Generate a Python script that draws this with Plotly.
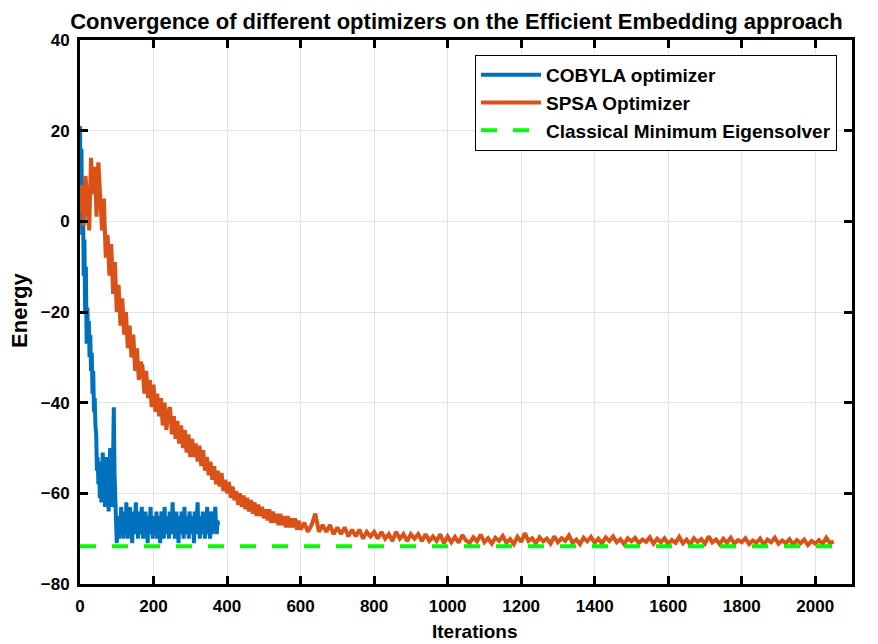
import plotly.graph_objects as go

# ---------------- data ----------------
cobyla_iter = list(range(0, 377, 2))
cobyla_energy = [
    # 0 - 42
    21, 7, 16, -3, 6, -12, -4, -20, -10, -27, -19, -26, -22, -30, -25, -33, -29, -38, -33, -42, -39, -45,
    # 44 - 102
    -47, -55, -52, -58, -54, -61, -53, -62, -56, -51, -60, -55, -63, -57, -52,
    -61, -56, -64, -58, -50, -59, -55, -63, -48, -41, -56, -62, -66, -71, -68,
    # 104 - 376
    -65, -70, -66, -69, -63, -68, -65, -70, -64, -67,
    -69, -62, -67, -70, -65, -68, -63, -69, -66, -71,
    -64, -67, -69, -65, -62, -68, -66, -70, -64, -67,
    -69, -66, -63, -68, -70, -65, -67, -64, -69, -66,
    -71, -65, -68, -66, -63, -69, -67, -70, -65, -68,
    -66, -69, -64, -70, -67, -65, -68, -71, -66, -64,
    -68, -66, -70, -63, -67, -69, -65, -68, -66, -70,
    -64, -67, -69, -66, -62, -68, -65, -70, -67, -64,
    -68, -66, -71, -65, -67, -69, -64, -68, -66, -70,
    -63, -67, -69, -65, -68, -66, -70, -64, -67, -69,
    -65, -68, -66, -71, -64, -67, -69, -65, -62, -68,
    -66, -70, -65, -67, -69, -64, -68, -66, -70, -65,
    -67, -63, -69, -66, -68, -70, -64, -67, -69, -65,
    -68, -66, -63, -67, -69, -66, -67,
]

spsa_iter = list(range(0, 601, 5)) + list(range(610, 2051, 10))
spsa_energy = [
    # 0 - 600 (every 5)
    2, 8, -1, 10, 4, -2, 14, 6, 12, 1, 13, 4, -2, 5, -8, -3, -12, -5, -16, -9,
    -20, -14, -23, -17, -25, -20, -28, -23, -30, -25, -33, -28, -35, -31, -32, -38, -33, -39, -35, -41,
    -36, -42, -38, -43, -39, -45, -40, -46, -42, -41, -47, -43, -48, -44, -49, -45, -50, -46, -51, -47,
    -52, -48, -52, -49, -53, -49.5, -54, -50.5, -55, -52, -56, -53, -57, -54, -58, -55, -58.5, -55.5, -59.5, -57,
    -60, -57.5, -61, -58.5, -61.5, -59.5, -62.5, -60, -63, -60.5, -63.5, -61, -64, -61.5, -64.5, -62, -65, -62.5, -65, -63,
    -65.5, -63.5, -66, -63.5, -66.5, -64, -66.5, -64.5, -67, -64.5, -67, -65, -67.5, -65, -67.5, -65.5, -67.5, -65.5, -68, -66,
    -68,
    # 610 - 1000 (every 10)
    -66.5, -68.5, -67, -64.5, -68.5, -67, -68.5, -67, -69, -67.5,
    -69, -67.5, -69.5, -68, -69.5, -68, -70, -68.5, -69.5, -68.5,
    -70, -68.5, -70, -69, -70.5, -68.5, -70, -69, -70.5, -69,
    -70, -69, -70.5, -69, -70.5, -69.5, -70.5, -69, -71, -69.5,
    # 1010 - 2050 (every 10)
    -70.8, -69.6, -70.9, -69.2, -70.4, -70.9, -69.7, -70.6, -69.1,
    -70.8, -69.9, -71.1, -69.8, -70.5, -69.4, -70.9, -70.1, -71.2, -69.6,
    -70.7, -68.8, -70.5, -69.9, -71.0, -69.7, -70.6, -70.0, -71.1, -69.5,
    -70.8, -69.9, -70.5, -69.3, -70.9, -70.2, -71.2, -69.8, -70.6, -69.6,
    -70.9, -70.0, -71.0, -69.7, -70.5, -69.5, -70.8, -70.1, -71.2, -69.9,
    -70.6, -69.8, -71.0, -70.2, -70.7, -69.7, -71.1, -70.0, -70.8, -69.9,
    -71.2, -70.3, -70.9, -69.6, -71.0, -70.2, -71.3, -69.9, -70.7, -70.1,
    -71.1, -69.5, -70.8, -70.2, -71.2, -70.0, -70.9, -69.8, -71.1, -70.3,
    -70.8, -69.9, -71.2, -70.4, -70.9, -70.0, -71.3, -70.2, -70.8, -69.8,
    -71.1, -70.4, -71.0, -70.1, -71.3, -70.3, -71.0, -70.2, -71.4, -70.5,
    -71.1, -70.3, -71.2, -69.8, -71.0, -70.6,
]

classical_x = [0, 2050]
classical_energy = [-71.65, -71.65]

x_ticks = [0, 200, 400, 600, 800, 1000, 1200, 1400, 1600, 1800, 2000]
y_ticks = [-80, -60, -40, -20, 0, 20, 40]

# ---------------- figure ----------------
FONT = "Liberation Sans, Arial, sans-serif"

fig = go.Figure()
fig.add_trace(go.Scatter(x=cobyla_iter, y=cobyla_energy, mode="lines",
                         name="COBYLA optimizer", legendgroup="a",
                         line=dict(color="#0072BD", width=4)))
fig.add_trace(go.Scatter(x=spsa_iter, y=spsa_energy, mode="lines",
                         name="SPSA Optimizer", legendgroup="b",
                         line=dict(color="#D95319", width=4)))
fig.add_trace(go.Scatter(x=classical_x, y=classical_energy, mode="lines",
                         name="Classical Minimum Eigensolver", legendgroup="c",
                         line=dict(color="#00FF00", width=4, dash="16px,16px")))

axis_common = dict(
    showline=True, linecolor="black", linewidth=3, mirror="ticks",
    ticks="inside", ticklen=8, tickwidth=3, tickcolor="black",
    showgrid=True, gridcolor="#e3e3e3", gridwidth=1, zeroline=False,
    automargin=False,
    tickfont=dict(family=FONT, size=17, color="black", weight="bold"),
)

fig.update_layout(
    width=878, height=644,
    margin=dict(l=72, r=34, t=32, b=68),
    paper_bgcolor="white", plot_bgcolor="white",
    font=dict(family=FONT, color="black", weight="bold"),
    title=dict(text="Convergence of different optimizers on the Efficient Embedding approach",
               x=0.5108, xanchor="center", y=0.98, yanchor="middle",
               font=dict(family=FONT, size=22, color="black", weight="bold")),
    xaxis=dict(range=[0, 2100], tickvals=x_ticks, ticklabelstandoff=5, **axis_common),
    yaxis=dict(range=[-80, 40], tickvals=y_ticks, ticklabelstandoff=4, **axis_common),
    legend=dict(x=0.9806, y=0.9724, xanchor="right", yanchor="top",
                bgcolor="white", bordercolor="black", borderwidth=1,
                font=dict(family=FONT, size=19, color="black", weight="bold"),
                itemwidth=60, tracegroupgap=0, traceorder="grouped"),
    showlegend=True,
    annotations=[
        dict(text="Iterations", xref="paper", yref="paper", x=0.5117, y=-0.0864,
             xanchor="center", yanchor="middle", showarrow=False,
             font=dict(family=FONT, size=19, color="black", weight="bold")),
        dict(text="Energy", xref="paper", yref="paper", x=-0.0777, y=0.502,
             xanchor="center", yanchor="middle", showarrow=False, textangle=-90,
             font=dict(family=FONT, size=22, color="black", weight="bold")),
    ],
)

fig.write_html("out.html")
